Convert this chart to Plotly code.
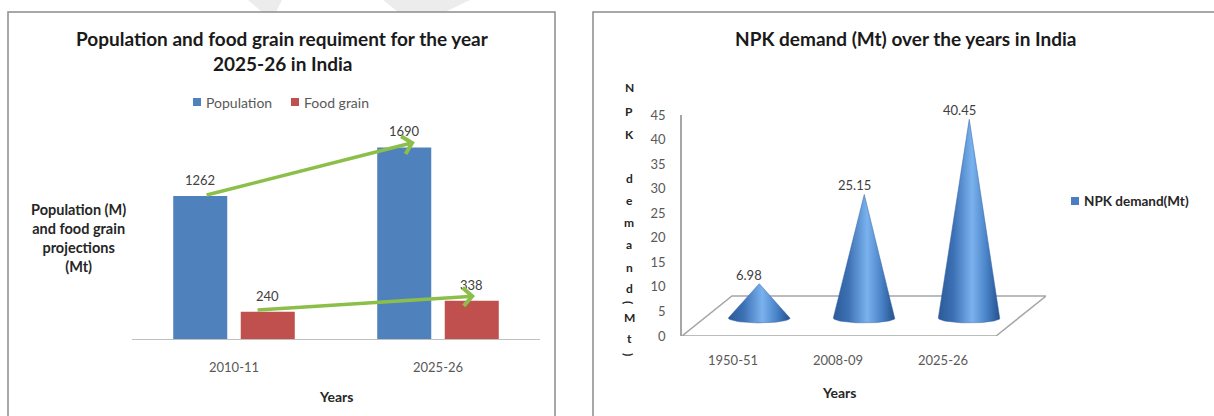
import numpy as np
import plotly.graph_objects as go

W, H = 1214, 416

# ---------------- data ----------------
years_left = ["2010-11", "2025-26"]
population = [1262, 1690]
food_grain = [240, 338]

years_right = ["1950-51", "2008-09", "2025-26"]
npk_demand = [6.98, 25.15, 40.45]
npk_ticks = [0, 5, 10, 15, 20, 25, 30, 35, 40, 45]


def px(x):
    return x / W


def py(y):
    return 1 - y / H


FONT = "Lato"
GRAY = "#595959"
DARK = "#262626"
BLUE = "#4F81BD"
RED = "#C0504D"
GREEN = "#8CBF4A"
NPK_BLUE = "#4A7EC1"

fig = go.Figure()

# ---------------- left chart: grouped bars ----------------
xl = list(range(len(years_left)))
fig.add_trace(go.Bar(x=xl, y=population, name="Population", marker=dict(color=BLUE, line=dict(width=0)),
                     xaxis="x", yaxis="y", showlegend=False, hoverinfo="skip"))
fig.add_trace(go.Bar(x=xl, y=food_grain, name="Food grain", marker=dict(color=RED, line=dict(width=0)),
                     xaxis="x", yaxis="y", showlegend=False, hoverinfo="skip"))

BARGAP = 0.338
slot = (1 - BARGAP) / 2
off = slot / 2  # centre offset of each bar in its group

annotations = []
shapes = []
LBL = dict(family=FONT, size=13, color="#404040")
for i, v in enumerate(population):
    annotations.append(dict(x=i - off, y=v, xref="x", yref="y", text=str(v), showarrow=False,
                            yshift=16, font=LBL))
for i, v in enumerate(food_grain):
    annotations.append(dict(x=i + off, y=v, xref="x", yref="y", text=str(v), showarrow=False,
                            yshift=16, font=LBL))

# green trend arrows
annotations.append(dict(x=1 - off + 0.052, y=population[1] + 47, ax=0 - off + 0.024, ay=population[0] + 5,
                        xref="x", yref="y", axref="x", ayref="y", text="", showarrow=True,
                        arrowhead=4, arrowsize=1.0, arrowwidth=3.5, arrowcolor=GREEN, standoff=0))
annotations.append(dict(x=1 + off + 0.016, y=food_grain[1] + 41, ax=0 + off - 0.057, ay=food_grain[0] + 16,
                        xref="x", yref="y", axref="x", ayref="y", text="", showarrow=True,
                        arrowhead=4, arrowsize=1.0, arrowwidth=3.5, arrowcolor=GREEN, standoff=0))

# ---------------- right chart: cones ----------------
BASE = 3.67      # depth offset of the cone bases
SHIFT = 0.25     # depth shift of the cones along x
HW = 0.295       # half width of cone base
EH = 1.0         # half height of base ellipse
cone_cs = [[0.0, "#2B5A97"], [0.25, "#3D71B5"], [0.55, "#7AB2EE"],
           [0.78, "#4A83C8"], [1.0, "#23508C"]]

floor_x = [-0.486, 2.505, 2.981, -0.01, -0.486]
floor_y = [0, 0, 8.14, 8.14, 0]
fig.add_trace(go.Scatter(x=floor_x, y=floor_y, mode="lines", line=dict(color="#A6A6A6", width=1.5),
                         xaxis="x2", yaxis="y2", showlegend=False, hoverinfo="skip"))

t = np.linspace(0, np.pi, 40)
for i, v in enumerate(npk_demand):
    cx = i + SHIFT
    xs = [cx] + list(cx + HW * np.cos(t)) + [cx]
    ys = [BASE + v] + list(BASE - EH * np.sin(t)) + [BASE + v]
    fig.add_trace(go.Scatter(x=xs, y=ys, mode="lines", fill="toself", name="NPK demand(Mt)",
                             fillgradient=dict(type="horizontal", colorscale=cone_cs),
                             line=dict(color="#3465A4", width=0.5),
                             xaxis="x2", yaxis="y2", showlegend=False, hoverinfo="skip"))
    annotations.append(dict(x=cx, y=BASE + v, xref="x2", yref="y2", text=f"{v:.2f}", showarrow=False,
                            yshift=9, xshift=-10, font=LBL))

# ---------------- legends (drawn) ----------------
def legend_item(xc, yc, color, label, font):
    shapes.append(dict(type="rect", xref="paper", yref="paper", x0=px(xc - 4), x1=px(xc + 4),
                       y0=py(yc + 4), y1=py(yc - 4), fillcolor=color, line=dict(width=0)))
    annotations.append(dict(x=px(xc + 7), y=py(yc), xref="paper", yref="paper", text=label,
                            showarrow=False, xanchor="left", yanchor="middle", font=font))


legend_item(197, 102, BLUE, "Population", dict(family=FONT, size=14, color=GRAY))
legend_item(295, 102, RED, "Food grain", dict(family=FONT, size=14, color=GRAY))
legend_item(1075, 201, NPK_BLUE, "<b>NPK demand(Mt)</b>", dict(family=FONT, size=13.5, color=DARK))

# ---------------- titles & axis labels ----------------
TF = dict(family=FONT, size=19, color="#1A1A1A")
annotations += [
    dict(x=px(282), y=py(38), xref="paper", yref="paper", text="<b>Population and food grain requiment for the year</b>",
         showarrow=False, font=TF, xanchor="center", yanchor="middle"),
    dict(x=px(282), y=py(63), xref="paper", yref="paper", text="<b>2025-26 in India</b>",
         showarrow=False, font=TF, xanchor="center", yanchor="middle"),
    dict(x=px(78), y=py(238), xref="paper", yref="paper",
         text="<b>Population (M)<br>and food grain<br>projections<br>(Mt)</b>",
         showarrow=False, font=dict(family=FONT, size=14.5, color=DARK), xanchor="center", yanchor="middle"),
    dict(x=px(336), y=py(396), xref="paper", yref="paper", text="<b>Years</b>",
         showarrow=False, font=dict(family=FONT, size=14, color=DARK), xanchor="center", yanchor="middle"),
    dict(x=px(905), y=py(38), xref="paper", yref="paper", text="<b>NPK demand (Mt) over the years in India</b>",
         showarrow=False, font=TF, xanchor="center", yanchor="middle"),
    dict(x=px(839), y=py(392), xref="paper", yref="paper", text="<b>Years</b>",
         showarrow=False, font=dict(family=FONT, size=14, color=DARK), xanchor="center", yanchor="middle"),
]

stack_chars = ["N", "P", "K", "d", "e", "m", "a", "n", "d", "(", "M", "t", ")"]
stack_y = [87, 111, 134, 178, 200, 222, 244, 267, 288, 302, 317, 338, 354]
for ch, yy in zip(stack_chars, stack_y):
    annotations.append(dict(x=px(629), y=py(yy), xref="paper", yref="paper", text=f"<b>{ch}</b>",
                            showarrow=False, textangle=90 if ch in "()" else 0,
                            font=dict(family=FONT, size=12, color=DARK), xanchor="center", yanchor="middle"))

# faint watermark stripes above the frames
shapes += [
    dict(type="path", xref="paper", yref="paper", layer="below", fillcolor="#ECECEC", line=dict(width=0),
         path=f"M {px(248)},{py(0)} L {px(282)},{py(0)} L {px(276)},{py(12)} L {px(262)},{py(12)} Z"),
    dict(type="path", xref="paper", yref="paper", layer="below", fillcolor="#ECECEC", line=dict(width=0),
         path=f"M {px(383)},{py(0)} L {px(470)},{py(0)} L {px(445)},{py(12)} L {px(398)},{py(12)} Z"),
]

# panel frames
shapes += [
    dict(type="rect", xref="paper", yref="paper", x0=px(8), x1=px(555), y0=py(12), y1=py(440),
         line=dict(color="#8C8C8C", width=1.5), fillcolor="white", layer="below"),
    dict(type="rect", xref="paper", yref="paper", x0=px(593), x1=px(1240), y0=py(12), y1=py(440),
         line=dict(color="#8C8C8C", width=1.5), fillcolor="white", layer="below"),
]

fig.update_layout(
    width=W, height=H,
    margin=dict(l=0, r=0, t=0, b=0, pad=0, autoexpand=False),
    paper_bgcolor="white", plot_bgcolor="rgba(0,0,0,0)",
    barmode="group", bargap=BARGAP, bargroupgap=0.2,
    font=dict(family=FONT, color=GRAY),
    xaxis=dict(domain=[px(132), px(540)], range=[-0.5, 1.5], tickvals=xl, ticktext=years_left,
               showgrid=False, zeroline=False, showline=True, linecolor="#BFBFBF", linewidth=1,
               ticks="", ticklabelstandoff=16, tickfont=dict(family=FONT, size=13, color=GRAY),
               anchor="y", fixedrange=True, automargin=False),
    yaxis=dict(domain=[py(339), py(135)], range=[0, 1800], visible=False, anchor="x", fixedrange=True,
               automargin=False),
    xaxis2=dict(domain=[px(682), px(1046)], range=[-0.486, 2.981], tickvals=[0, 1, 2], ticktext=years_right,
                showgrid=False, zeroline=False, showline=False, ticks="", ticklabelstandoff=15,
                tickfont=dict(family=FONT, size=13, color=GRAY), anchor="y2", fixedrange=True,
                automargin=False),
    yaxis2=dict(domain=[py(336), py(115)], range=[0, 45], tickvals=npk_ticks, showgrid=False, zeroline=False,
                showline=True, linecolor="#A6A6A6", linewidth=1.5, ticks="", ticklabelstandoff=12,
                tickfont=dict(family=FONT, size=13, color=GRAY), anchor="x2", fixedrange=True,
                automargin=False),
    annotations=annotations,
    shapes=shapes,
    showlegend=False,
)

fig.write_html("out.html", config={"displayModeBar": False},
               post_script="document.body.style.margin='0px';document.body.style.padding='0px';document.body.style.overflow='hidden';")
